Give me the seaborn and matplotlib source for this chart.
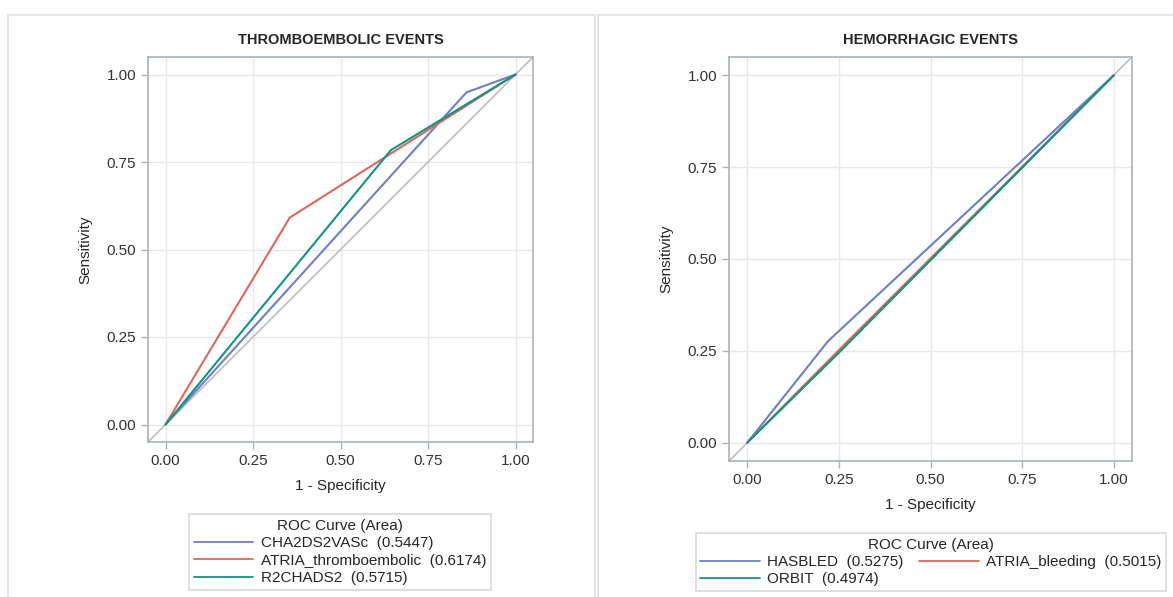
import numpy as np
import pandas as pd
import matplotlib.pyplot as plt
import seaborn as sns
from matplotlib.patches import Rectangle

# ROC curve points
thrombo_names = ['CHA2DS2VASc', 'ATRIA_thromboembolic', 'R2CHADS2']
thrombo_auc = [0.5447, 0.6174, 0.5715]
thrombo_fpr = [[0.0, 0.86, 1.0], [0.0, 0.355, 1.0], [0.0, 0.644, 1.0]]
thrombo_tpr = [[0.0, 0.949, 1.0], [0.0, 0.591, 1.0], [0.0, 0.784, 1.0]]

hemo_names = ['HASBLED', 'ATRIA_bleeding', 'ORBIT']
hemo_auc = [0.5275, 0.5015, 0.4974]
hemo_fpr = [[0.0, 0.22, 1.0], [0.0, 0.25, 1.0], [0.0, 0.25, 1.0]]
hemo_tpr = [[0.0, 0.276, 1.0], [0.0, 0.252, 1.0], [0.0, 0.245, 1.0]]

ticks = [0.0, 0.25, 0.5, 0.75, 1.0]
colors = ['#6f7fc6', '#e0665a', '#0f9585']

sns.set_style('white')
plt.rcParams['font.family'] = ['Liberation Sans', 'DejaVu Sans']

fig = plt.figure(figsize=(11.73, 5.97), dpi=100)

# panel frames (bottom edge runs off the picture)
fig.patches.append(Rectangle((8/1173, -0.05), 587/1173, 1.05 - 15/597, transform=fig.transFigure,
                             fill=False, ec='#e2e2e2', lw=1.2))
fig.patches.append(Rectangle((598/1173, -0.05), 600/1173, 1.05 - 15/597, transform=fig.transFigure,
                             fill=False, ec='#e2e2e2', lw=1.2))


def make_df(names, aucs, fprs, tprs):
    rows = []
    for n, a, fx, ty in zip(names, aucs, fprs, tprs):
        lab = f'{n}  ({a:.4f})'
        for x, y in zip(fx, ty):
            rows.append({'fpr': x, 'tpr': y, 'curve': lab})
    return pd.DataFrame(rows)


def draw(ax, df, title):
    ax.plot([-0.05, 1.05], [-0.05, 1.05], color='#bdbdbd', lw=1.2, zorder=1)
    sns.lineplot(data=df, x='fpr', y='tpr', hue='curve', palette=colors,
                 sort=False, estimator=None, lw=1.5, ax=ax, legend=False, zorder=2)
    ax.set_xlim(-0.05, 1.05)
    ax.set_ylim(-0.05, 1.05)
    ax.set_xticks(ticks)
    ax.set_yticks(ticks)
    ax.set_xticklabels([f'{t:.2f}' for t in ticks])
    ax.set_yticklabels([f'{t:.2f}' for t in ticks])
    ax.grid(True, color='#e8e8e8', lw=1)
    ax.set_axisbelow(True)
    for s in ax.spines.values():
        s.set_color('#a9b3b8')
        s.set_linewidth(1.2)
    ax.tick_params(axis='both', length=5, color='#a9b3b8', labelsize=11, width=1, direction='out',
                   bottom=True, left=True, labelcolor='#333333')
    ax.set_xlabel('1 - Specificity', fontsize=11, labelpad=8)
    ax.set_ylabel('Sensitivity', fontsize=11, labelpad=10)
    ax.set_title(title, fontsize=10.5, fontweight='bold', pad=9)


ax1 = fig.add_axes([148/1173, 1 - 442/597, 385/1173, 385/597])
df1 = make_df(thrombo_names, thrombo_auc, thrombo_fpr, thrombo_tpr)
draw(ax1, df1, 'THROMBOEMBOLIC EVENTS')

ax2 = fig.add_axes([729/1173, 1 - 461/597, 403/1173, 404/597])
df2 = make_df(hemo_names, hemo_auc, hemo_fpr, hemo_tpr)
draw(ax2, df2, 'HEMORRHAGIC EVENTS')

# legends
h1 = [plt.Line2D([], [], color=c, lw=1.3) for c in colors]
l1 = [f'{n}  ({a:.4f})' for n, a in zip(thrombo_names, thrombo_auc)]
leg1 = fig.legend(h1, l1, title='ROC Curve (Area)', loc='center',
                  bbox_to_anchor=(340/1173, 1 - 552/597), fontsize=11, title_fontsize=11,
                  frameon=True, fancybox=False, edgecolor='#d0d0d0', handlelength=3.9,
                  labelspacing=0.22, borderpad=0.3, handletextpad=0.5)
leg1.get_frame().set_linewidth(1.2)

h2 = [plt.Line2D([], [], color=colors[i], lw=1.3) for i in (0, 2, 1)]
l2 = [f'{hemo_names[i]}  ({hemo_auc[i]:.4f})' for i in (0, 2, 1)]
leg2 = fig.legend(h2, l2, title='ROC Curve (Area)', loc='center', ncol=2,
                  bbox_to_anchor=(931/1173, 1 - 562/597), fontsize=11, title_fontsize=11,
                  frameon=True, fancybox=False, edgecolor='#d0d0d0', handlelength=3.9,
                  labelspacing=0.22, borderpad=0.3, handletextpad=0.5, columnspacing=1.0)
leg2.get_frame().set_linewidth(1.2)

fig.savefig('out.png', dpi=100)
